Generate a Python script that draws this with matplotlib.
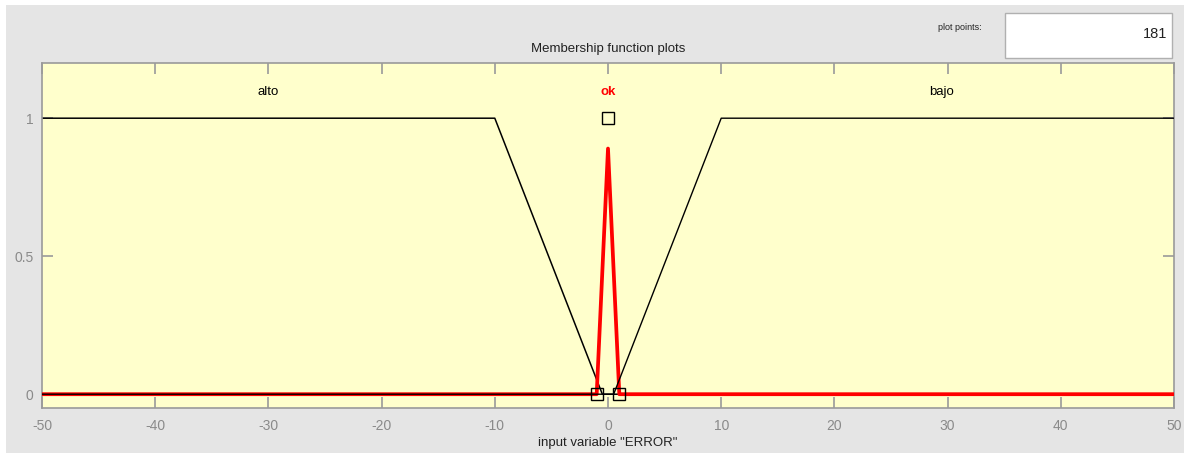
import matplotlib
matplotlib.use("Agg")
import matplotlib.pyplot as plt
from matplotlib.patches import Rectangle

plt.rcParams["font.family"] = ["Liberation Sans", "DejaVu Sans"]

# Membership functions of the input variable "ERROR" (breakpoints)
alto_x = [-50, -10, -0.5, 50]
alto_y = [1, 1, 0, 0]
ok_x = [-50, -1, 0, 1, 50]
ok_y = [0, 0, 0.89, 0, 0]
bajo_x = [-50, 0.5, 10, 50]
bajo_y = [0, 0, 1, 1]

# Parameter handles of the selected function "ok"
handle_x = [-1, 0, 1]
handle_y = [0, 1, 0]

mf_names = ["alto", "ok", "bajo"]
label_x = [-30, 0, 29.5]

x_ticks = list(range(-50, 51, 10))
y_ticks = [0, 0.5, 1]
plot_points = 181

W, H = 1188, 453
fig = plt.figure(figsize=(W / 100, H / 100), dpi=100)
fig.patch.set_facecolor("white")

# grey GUI panel
fig.patches.append(Rectangle((6 / W, 0), (1184 - 6) / W, (H - 5) / H,
                             transform=fig.transFigure, facecolor="#e5e5e5",
                             edgecolor="none", zorder=-10))

ax = fig.add_axes([42 / W, 45 / H, (1174 - 42) / W, (408 - 63) / H])
ax.set_zorder(5)
ax.set_facecolor("#ffffcc")
for s in ax.spines.values():
    s.set_color("#9a9a9a")
    s.set_linewidth(1.2)

ax.plot(alto_x, alto_y, color="black", lw=1.1, zorder=2)
ax.plot(ok_x, ok_y, color="red", lw=2.7, zorder=3)
ax.plot(bajo_x, bajo_y, color="black", lw=1.0, zorder=4)
ax.plot(handle_x, handle_y, linestyle="none", marker="s", markersize=8,
        markerfacecolor="none", markeredgecolor="black", markeredgewidth=1.0,
        zorder=5)

for name, lx in zip(mf_names, label_x):
    sel = name == "ok"
    ax.text(lx, 1.095, name, ha="center", va="center", fontsize=9.5,
            color="red" if sel else "black",
            fontweight="bold" if sel else "normal")

ax.set_xlim(-50, 50)
ax.set_ylim(-0.05, 1.2)
ax.set_xticks(x_ticks)
ax.set_xticklabels([str(t) for t in x_ticks])
ax.set_yticks(y_ticks)
ax.set_yticklabels(["0", "0.5", "1"])
ax.tick_params(direction="in", length=8, width=1.2, color="#9a9a9a",
               labelcolor="#8a8a8a", labelsize=10)
ax.tick_params(axis="x", pad=8, top=True)
ax.tick_params(axis="y", pad=6, right=True)

ax.set_title("Membership function plots", fontsize=9.5, pad=8, color="#222222")
ax.set_xlabel('input variable "ERROR"', fontsize=9.5, labelpad=3,
              color="#222222")

# plot points field
fig.text(960 / W, 1 - 28 / H, "plot points:", fontsize=6.5, ha="center",
         va="center", color="#222222")
fig.patches.append(Rectangle((1005 / W, 1 - 58 / H), (1172 - 1005) / W, 45 / H,
                             transform=fig.transFigure, facecolor="white",
                             edgecolor="#b0b0b0", lw=1.0, zorder=1))
fig.text(1167 / W, 1 - 34 / H, str(plot_points), fontsize=10.5, ha="right",
         va="center", color="#222222")

fig.savefig("out.png", dpi=100)
